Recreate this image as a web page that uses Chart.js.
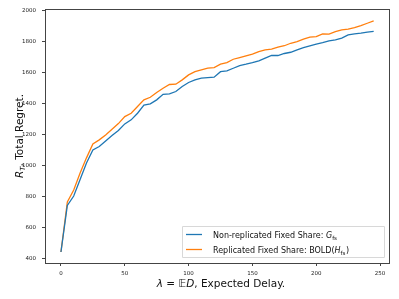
<!DOCTYPE html>
<html>
<head>
<meta charset="utf-8">
<script src="https://cdn.jsdelivr.net/npm/chart.js@4.4.0/dist/chart.umd.min.js"></script>
<style>
html, body { margin: 0; padding: 0; background: #fff; }
#wrap { width: 399px; height: 299px; }
</style>
</head>
<body>
<div id="wrap"><canvas id="regretChart"></canvas></div>
<script>
// expected delay values
var delays = [0, 5, 10, 15, 20, 25, 30, 35, 40, 45, 50, 55, 60, 65, 70, 75, 80, 85, 90, 95,
	100, 105, 110, 115, 120, 125, 130, 135, 140, 145, 150, 155, 160, 165, 170, 175, 180, 185, 190, 195,
	200, 205, 210, 215, 220, 225, 230, 235, 240, 245];

// non-replicated fixed share
var nonReplicated = [445, 745, 806, 913, 1019, 1103, 1125, 1161, 1196, 1228, 1271, 1297, 1340, 1392, 1400, 1426, 1462, 1465, 1480, 1512,
	1538, 1555, 1566, 1570, 1572, 1608, 1613, 1630, 1647, 1656, 1666, 1677, 1695, 1712, 1712, 1725, 1733, 1748, 1763, 1774,
	1785, 1795, 1806, 1813, 1824, 1845, 1852, 1856, 1863, 1867];

// replicated fixed share (BOLD)
var replicated = [445, 768, 845, 955, 1052, 1142, 1168, 1200, 1237, 1273, 1318, 1340, 1383, 1426, 1443, 1473, 1501, 1525, 1527, 1555,
	1587, 1608, 1619, 1630, 1634, 1656, 1666, 1688, 1699, 1710, 1721, 1737, 1748, 1753, 1766, 1775, 1791, 1802, 1817, 1830,
	1834, 1852, 1850, 1866, 1877, 1882, 1892, 1905, 1920, 1935];

var xTicks = [0, 50, 100, 150, 200, 250];
var yTicks = [400, 600, 800, 1000, 1200, 1400, 1600, 1800, 2000];

var blue = "#1f77b4";
var orange = "#ff7f0e";
var fontFam = "'DejaVu Sans', sans-serif";

// draws the frame, axis titles and the legend box the matplotlib way
var extras = {
	id: "extras",
	afterDraw: function(chart) {
		var c = chart.ctx;
		var a = chart.chartArea;
		c.save();
		// frame
		c.strokeStyle = "#444";
		c.lineWidth = 1;
		c.strokeRect(Math.round(a.left) + 0.5, Math.round(a.top) + 0.5, Math.round(a.right - a.left), Math.round(a.bottom - a.top));

		// y title
		c.fillStyle = "#111";
		c.textBaseline = "alphabetic";
		c.save();
		c.translate(22.5, 136);
		c.rotate(-Math.PI / 2);
		var big = "10.5px " + fontFam;
		var sub = "7px " + fontFam;
		var parts = [
			{t: "R", f: "italic " + big, dy: 0},
			{t: "T", f: "italic " + sub, dy: 2},
			{t: ", Total Regret.", f: big, dy: 0}
		];
		var w = 0;
		parts.forEach(function(p) { c.font = p.f; w += c.measureText(p.t).width; });
		var x = -w / 2;
		parts.forEach(function(p) { c.font = p.f; c.fillText(p.t, x, p.dy); x += c.measureText(p.t).width; });
		c.restore();

		// x title
		var xp = [
			{t: "\u03BB", f: "italic " + big},
			{t: " = \uD835\uDD3C", f: big},
			{t: "D", f: "italic " + big},
			{t: ", Expected Delay.", f: big}
		];
		w = 0;
		xp.forEach(function(p) { c.font = p.f; w += c.measureText(p.t).width; });
		x = 221 - w / 2;
		xp.forEach(function(p) { c.font = p.f; c.fillText(p.t, x, 287); x += c.measureText(p.t).width; });

		// legend box
		var lx = 182.5, ly = 226.5, lw = 202, lh = 31;
		c.fillStyle = "rgba(255,255,255,0.8)";
		c.strokeStyle = "#d8d8d8";
		c.lineWidth = 1;
		c.beginPath();
		c.rect(lx, ly, lw, lh);
		c.fill();
		c.stroke();
		var rows = [
			{color: blue, y: 234.5, main: "Non-replicated Fixed Share: ", sym: "G", tail: ""},
			{color: orange, y: 249.5, main: "Replicated Fixed Share: BOLD(", sym: "H", tail: ")"}
		];
		rows.forEach(function(r) {
			c.strokeStyle = r.color;
			c.lineWidth = 1.3;
			c.beginPath();
			c.moveTo(186, r.y);
			c.lineTo(202, r.y);
			c.stroke();
			c.fillStyle = "#111";
			var tx = 213;
			c.font = "8px " + fontFam;
			c.fillText(r.main, tx, r.y + 3);
			tx += c.measureText(r.main).width;
			c.font = "italic 8px " + fontFam;
			c.fillText(r.sym, tx, r.y + 3);
			tx += c.measureText(r.sym).width;
			c.font = "5.5px " + fontFam;
			c.fillText("fs", tx, r.y + 5);
			tx += c.measureText("fs").width + 0.5;
			if (r.tail) {
				c.font = "8px " + fontFam;
				c.fillText(r.tail, tx, r.y + 3);
			}
		});
		c.restore();
	}
};

var chartdata = {
	labels: delays,
	datasets: [
		{
			label: "Non-replicated Fixed Share",
			data: nonReplicated,
			borderColor: blue,
			backgroundColor: blue,
			borderWidth: 1.3,
			pointRadius: 0,
			tension: 0
		},
		{
			label: "Replicated Fixed Share: BOLD",
			data: replicated,
			borderColor: orange,
			backgroundColor: orange,
			borderWidth: 1.3,
			pointRadius: 0,
			tension: 0
		}
	]
};

var ctx = document.getElementById("regretChart");

var chart = new Chart(ctx, {
	type: "line",
	data: chartdata,
	plugins: [extras],
	options: {
		responsive: true,
		maintainAspectRatio: false,
		animation: false,
		layout: { padding: { left: 0, right: 10, top: 9, bottom: 0 } },
		plugins: {
			legend: { display: false },
			tooltip: { enabled: false }
		},
		scales: {
			x: {
				type: "linear",
				min: -12.5,
				max: 257,
				afterBuildTicks: function(scale) { scale.ticks = xTicks.map(function(v) { return {value: v}; }); },
				afterFit: function(scale) { scale.height = 36; },
				grid: { drawOnChartArea: false, tickLength: 3, color: "#444" },
				border: { color: "#444" },
				ticks: { color: "#222", font: { family: fontFam, size: 5.5 }, padding: 4, maxRotation: 0,
					callback: function(v) { return String(v); } }
			},
			y: {
				min: 374,
				max: 2010,
				afterBuildTicks: function(scale) { scale.ticks = yTicks.map(function(v) { return {value: v}; }); },
				afterFit: function(scale) { scale.width = 45; },
				grid: { drawOnChartArea: false, tickLength: 3, color: "#444" },
				border: { color: "#444" },
				ticks: { color: "#222", font: { family: fontFam, size: 5.5 }, padding: 6,
					callback: function(v) { return String(v); } }
			}
		}
	}
});
</script>
</body>
</html>
